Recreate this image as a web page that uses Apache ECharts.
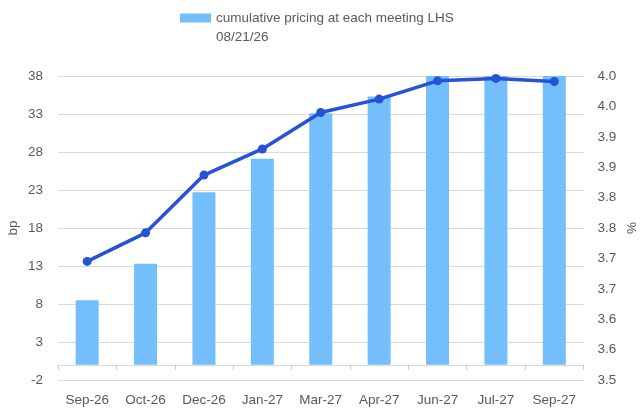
<!DOCTYPE html>
<html>
<head>
<meta charset="utf-8">
<script src="https://cdn.jsdelivr.net/npm/echarts@6/dist/echarts.min.js"></script>
<style>
  html, body { margin: 0; padding: 0; background: #fff; }
  #main { width: 641px; height: 411px; }
</style>
</head>
<body>
<div id="main"></div>
<script>
// data
var meetings = ['Sep-26', 'Oct-26', 'Dec-26', 'Jan-27', 'Mar-27', 'Apr-27', 'Jun-27', 'Jul-27', 'Sep-27'];
var cumulativeBp = [8.5, 13.3, 22.7, 27.1, 33.1, 35.3, 38.0, 38.0, 38.0];
var impliedRate = [3.695, 3.742, 3.837, 3.880, 3.940, 3.962, 3.992, 3.996, 3.991];
var leftTicks = [-2, 3, 8, 13, 18, 23, 28, 33, 38];
var rightTickLabels = ['3.5', '3.6', '3.6', '3.7', '3.7', '3.8', '3.8', '3.9', '3.9', '4.0', '4.0'];

var barName = 'cumulative pricing at each meeting LHS';
var font = "'Liberation Sans', Arial, sans-serif";
var grey = '#595959';

var myChart = echarts.init(document.getElementById('main'));
var option = {
    animation: false,
    textStyle: { fontFamily: font },
    legend: {
        data: [barName],
        left: 180,
        top: 11,
        padding: 0,
        itemWidth: 31,
        itemHeight: 9,
        icon: 'rect',
        textStyle: { color: grey, fontSize: 13.5, fontFamily: font }
    },
    graphic: [{
        type: 'text',
        left: 216,
        top: 30,
        style: { text: '08/21/26', fill: grey, font: '13.5px ' + font }
    }],
    grid: { left: 58, right: 57.5, top: 76, bottom: 31, outerBoundsMode: 'none' },
    xAxis: [{
        // labels along the bottom of the grid
        type: 'category',
        data: meetings,
        axisLine: { show: false, onZero: false },
        axisTick: { show: false },
        axisLabel: { color: grey, fontSize: 13.5, margin: 13 }
    }, {
        // axis line and ticks at zero
        type: 'category',
        data: meetings,
        position: 'bottom',
        axisLine: { onZero: true, onZeroAxisIndex: 0, lineStyle: { color: '#d9d9d9' } },
        axisTick: { show: true, length: 5, lineStyle: { color: '#cccccc' } },
        axisLabel: { show: false }
    }],
    yAxis: [{
        type: 'value',
        name: 'bp',
        nameLocation: 'middle',
        nameGap: 38,
        nameMoveOverlap: false,
        nameTextStyle: { color: grey, fontSize: 13.5 },
        min: leftTicks[0],
        max: leftTicks[leftTicks.length - 1],
        interval: leftTicks[1] - leftTicks[0],
        axisLine: { show: false },
        axisTick: { show: false },
        axisLabel: { color: grey, fontSize: 13.5, margin: 15 },
        splitLine: { lineStyle: { color: '#d9d9d9' } }
    }, {
        type: 'value',
        name: '%',
        nameLocation: 'middle',
        nameGap: 40,
        nameRotate: -90,
        nameMoveOverlap: false,
        nameTextStyle: { color: grey, fontSize: 13.5 },
        min: 3.5,
        max: 4.0,
        interval: 0.05,
        axisLine: { show: false },
        axisTick: { show: false },
        splitLine: { show: false },
        axisLabel: {
            color: grey, fontSize: 13.5, margin: 14,
            formatter: function (v, i) { return rightTickLabels[i]; }
        }
    }],
    series: [{
        name: barName,
        type: 'bar',
        data: cumulativeBp,
        barWidth: 23,
        itemStyle: { color: '#74bffb' }
    }, {
        name: 'rate RHS',
        type: 'line',
        yAxisIndex: 1,
        data: impliedRate,
        symbol: 'circle',
        symbolSize: 9,
        lineStyle: { width: 3.5, color: '#2552d6' },
        itemStyle: { color: '#2552d6' }
    }]
};
myChart.setOption(option);
</script>
</body>
</html>
